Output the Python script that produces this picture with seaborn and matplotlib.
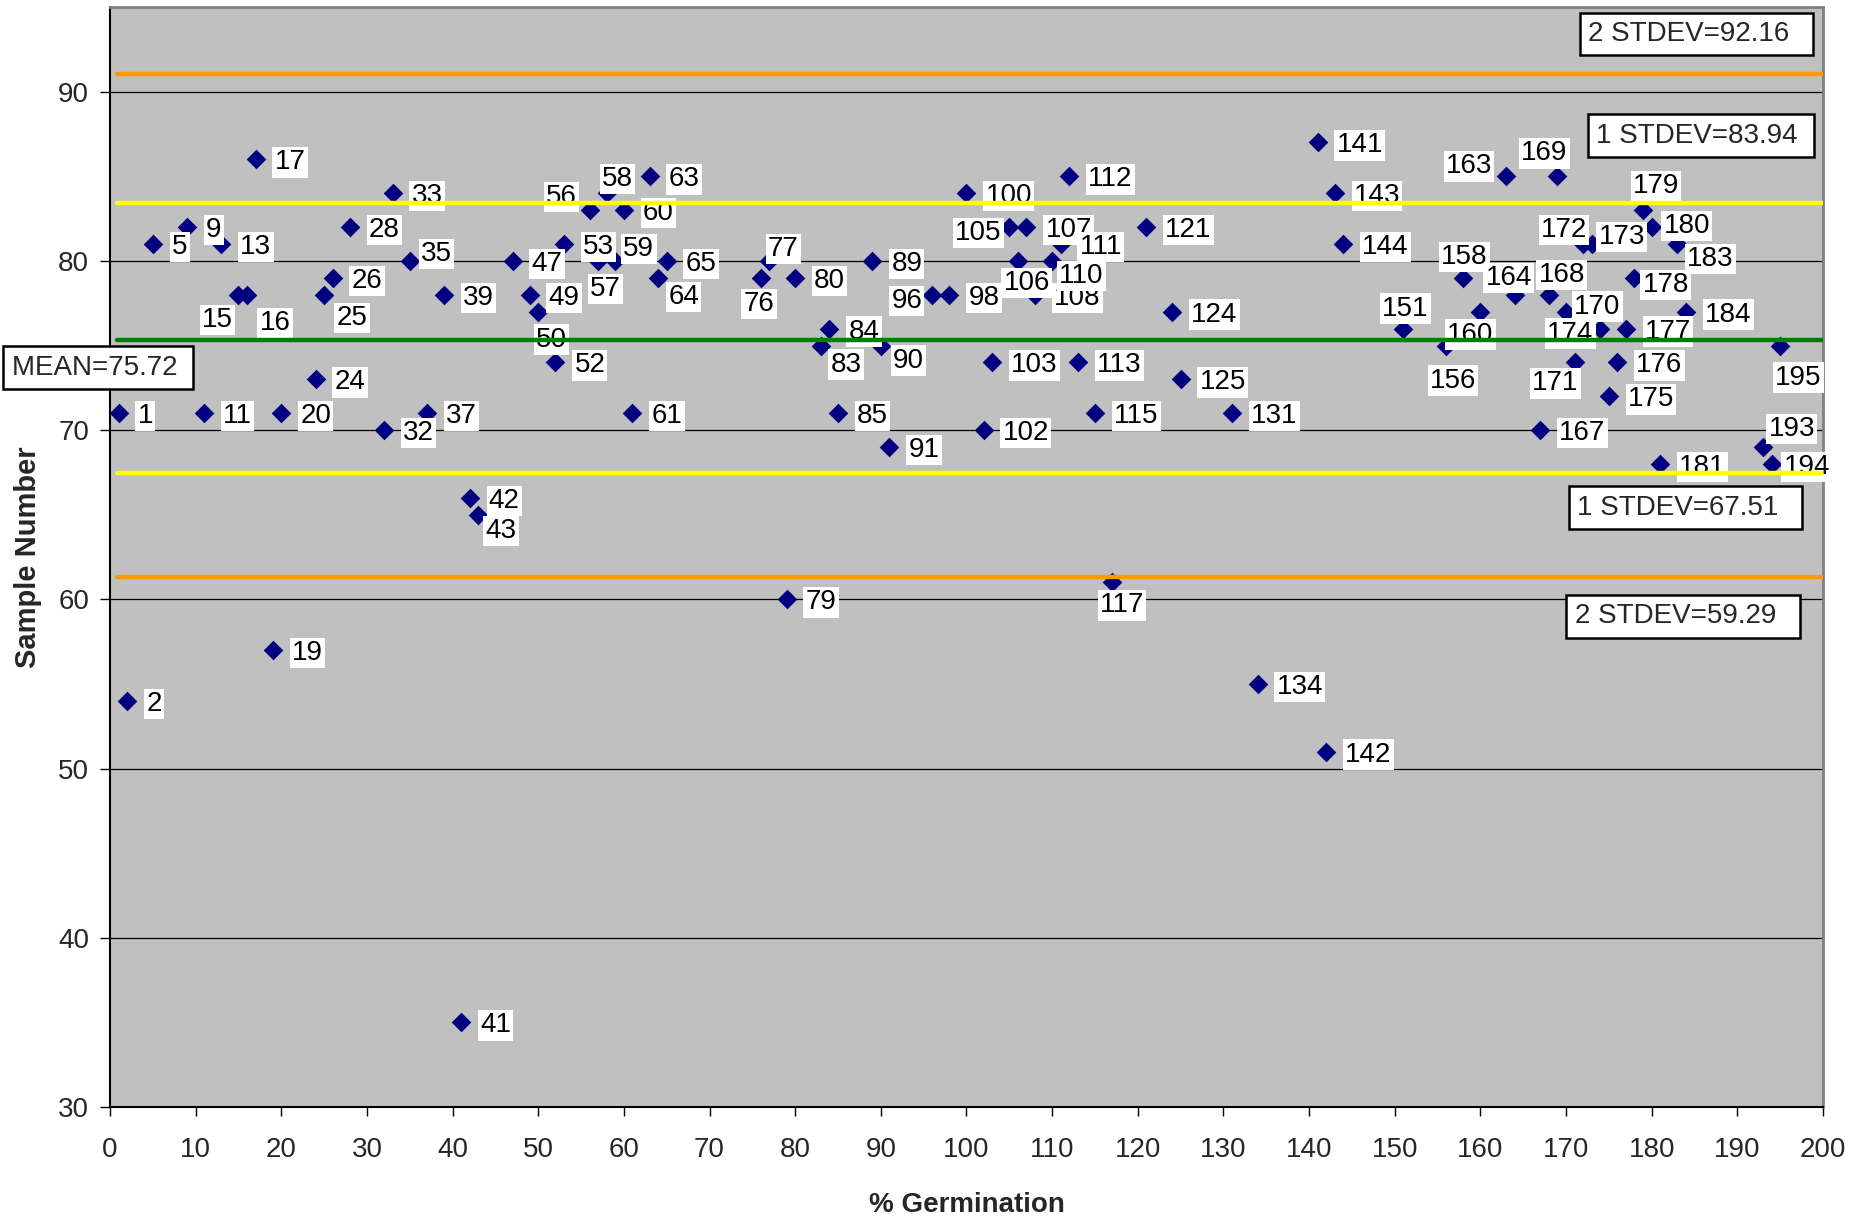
import matplotlib
matplotlib.use("Agg")
import matplotlib.pyplot as plt
import seaborn as sns
import pandas as pd

# sample number (x) and germination value (y)
samples = [1, 2, 5, 9, 11, 13, 15, 16, 17, 19, 20, 24, 25, 26, 28, 32, 33, 35, 37, 39,
           41, 42, 43, 47, 49, 50, 52, 53, 56, 57, 58, 59, 60, 61, 63, 64, 65, 76, 77, 79,
           80, 83, 84, 85, 89, 90, 91, 96, 98, 100, 102, 103, 105, 106, 107, 108, 110, 111,
           112, 113, 115, 117, 121, 124, 125, 131, 134, 141, 142, 143, 144, 151, 156, 158,
           160, 163, 164, 167, 168, 169, 170, 171, 172, 173, 174, 175, 176, 177, 178, 179,
           180, 181, 183, 184, 193, 194, 195]
germination = [71, 54, 81, 82, 71, 81, 78, 78, 86, 57, 71, 73, 78, 79, 82, 70, 84, 80, 71, 78,
               35, 66, 65, 80, 78, 77, 74, 81, 83, 80, 84, 80, 83, 71, 85, 79, 80, 79, 80, 60,
               79, 75, 76, 71, 80, 75, 69, 78, 78, 84, 70, 74, 82, 80, 82, 78, 80, 81,
               85, 74, 71, 61, 82, 77, 73, 71, 55, 87, 51, 84, 81, 76, 75, 79,
               77, 85, 78, 70, 78, 85, 77, 74, 81, 81, 76, 72, 74, 76, 79, 83,
               82, 68, 81, 77, 69, 68, 75]

# reference lines as drawn on the chart (mean, +/-1 and +/-2 stdev)
line_levels = [91.07, 83.4, 75.35, 67.45, 61.35]
line_colors = ["#FF9900", "#FFFF00", "#008000", "#FFFF00", "#FF9900"]
box_texts = ["2 STDEV=92.16  ", "1 STDEV=83.94 ", "MEAN=75.72 ", "1 STDEV=67.51  ", "2 STDEV=59.29  "]

# where each data label sits relative to its marker (pixels), default is to the right
label_offsets = {
    15: (-21, -22, "center"), 16: (28, -25, "center"), 25: (28, -20, "center"),
    35: (11, 10, "left"), 43: (7, -13, "left"), 50: (13, -25, "center"),
    56: (-28, 16, "center"), 57: (7, -25, "center"), 58: (11, 17, "center"),
    59: (8, 15, "left"), 64: (10, -16, "left"), 76: (-2, -23, "center"),
    77: (14, 15, "center"), 83: (25, -16, "center"), 90: (12, -12, "left"),
    96: (-10, -3, "right"), 105: (-8, -3, "right"), 106: (9, -19, "center"),
    110: (7, -12, "left"), 117: (10, -20, "center"), 151: (2, 23, "center"),
    156: (7, -32, "center"), 158: (1, 24, "center"), 160: (-10, -20, "center"),
    163: (-37, 13, "center"), 164: (-6, 20, "center"), 168: (13, 23, "center"),
    169: (-13, 26, "center"), 170: (8, 8, "left"), 171: (-19, -18, "center"),
    172: (-19, 17, "center"), 173: (7, 10, "left"), 174: (-30, -2, "center"),
    178: (8, -4, "left"), 179: (13, 27, "center"), 180: (12, 4, "left"),
    183: (10, -12, "left"), 193: (29, 21, "center"), 194: (12, 0, "left"),
    195: (18, -29, "center"),
}

df = pd.DataFrame({"sample": samples, "germ": germination})

sns.set_theme(style="white")
plt.rcParams["font.family"] = ["Liberation Sans", "DejaVu Sans"]

fig = plt.figure(figsize=(18.71, 12.2), dpi=100)
ax = fig.add_axes([0.0588, 0.0926, 0.9155, 0.9016])
ax.set_facecolor("#C0C0C0")

sns.scatterplot(data=df, x="sample", y="germ", marker="D", color="#000080",
                s=100, linewidth=0, ax=ax, zorder=3)

# data labels
for sx, gy in zip(samples, germination):
    dx, dy, ha = label_offsets.get(sx, (19, 0, "left"))
    ax.annotate(str(sx), (sx, gy), xytext=(dx, dy - 3), textcoords="offset pixels",
                ha=ha, va="center", fontsize=20, color="black", zorder=4,
                bbox=dict(boxstyle="square,pad=0.08", fc="white", ec="none"))

# mean / stdev lines sit on top of the labels
for lv, lc in zip(line_levels, line_colors):
    ax.axhline(lv, xmin=0.004, xmax=1, color=lc, lw=3.2, zorder=5)

# stat boxes
box_pos = [(172.6, 93.41), (173.5, 87.4), (-11.5, 73.69), (171.3, 65.41), (171.0, 59.0)]
for (bx, by), txt in zip(box_pos, box_texts):
    ax.text(bx, by, txt, ha="left", va="center", fontsize=20, zorder=6, clip_on=False,
            bbox=dict(boxstyle="square,pad=0.3", fc="white", ec="black", lw=1.8))

ax.set_xlim(0, 200)
ax.set_ylim(30, 95)
ax.set_xticks(range(0, 201, 10))
ax.set_yticks(range(30, 91, 10))
ax.yaxis.grid(True, color="black", lw=0.9)
ax.xaxis.grid(False)
ax.set_axisbelow(True)

ax.tick_params(axis="x", direction="out", length=6.5, width=1, pad=15, labelsize=20,
               bottom=True, color="black")
ax.tick_params(axis="y", direction="out", length=7, width=1, pad=8, labelsize=20,
               left=True, color="black")

for side in ["left", "bottom"]:
    ax.spines[side].set_color("black")
    ax.spines[side].set_linewidth(1.5)
for side in ["top", "right"]:
    ax.spines[side].set_color("#808080")
    ax.spines[side].set_linewidth(2)

ax.set_xlabel("% Germination", fontsize=20, fontweight="bold", labelpad=21)
ax.set_ylabel("Sample Number", fontsize=21, fontweight="bold", labelpad=12)

fig.savefig("out.png", dpi=100)
